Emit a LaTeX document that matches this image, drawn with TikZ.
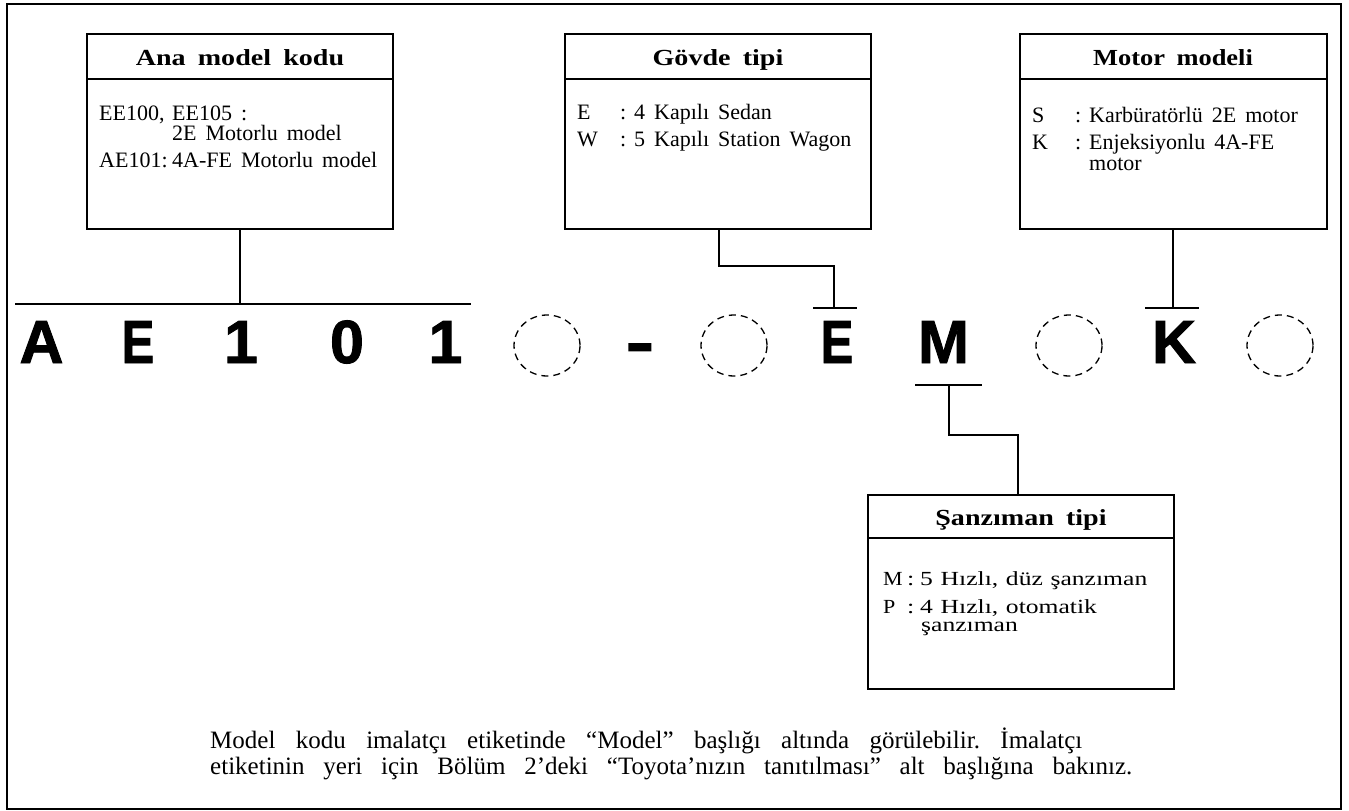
\documentclass[tikz,border=0pt]{standalone}
\usepackage{graphicx}
\usepackage{fontspec}
\setmainfont{Liberation Serif}
\newfontfamily\bigsans[BoldFeatures={FakeBold=1.5}]{Liberation Sans}
\usetikzlibrary{shapes.geometric}
\newcommand\wspA{\spaceskip 9pt\relax}
\newcommand\wspB{\spaceskip 6pt\relax}
\newcommand\wspC{\spaceskip 10pt\relax}
\tikzset{
  box/.style={draw, line width=1.4pt, rectangle, inner sep=0pt, minimum width=306pt},
  hdr/.style={anchor=base, inner sep=0pt, font=\fontsize{23}{27}\selectfont\bfseries\wspC},
  txt/.style={anchor=base west, inner sep=0pt, font=\fontsize{22}{26}\selectfont\wspA},
  txtb/.style={anchor=base west, inner sep=0pt, font=\fontsize{20}{24}\selectfont\wspB},
  conn/.style={line width=1.4pt},
  big/.style={anchor=base, inner sep=0pt, font=\bigsans\fontsize{61}{61}\selectfont\bfseries},
  slot/.style={draw, ellipse, dash pattern=on 7pt off 5pt, line width=1.3pt, minimum width=66pt, minimum height=61pt, inner sep=0pt},
  note/.style={anchor=base west, inner sep=0pt, font=\fontsize{25}{29}\selectfont\frenchspacing},
}
\begin{document}
\begin{tikzpicture}[x=1pt,y=-1pt]
\useasboundingbox (0,0) rectangle (1349,811);
\draw[line width=2pt] (7,4) rectangle (1341,809);

% boxes
\node[box, minimum height=195pt] (b1) at (240,131.5) {};
\node[box, minimum height=195pt] (b2) at (718,131.5) {};
\node[box, minimum width=307pt, minimum height=195pt] (b3) at (1173.5,131.5) {};
\node[box, minimum height=194pt] (b4) at (1021,592) {};
\draw[conn] (b1.west |- 0,79) -- (b1.east |- 0,79);
\draw[conn] (b2.west |- 0,79) -- (b2.east |- 0,79);
\draw[conn] (b3.west |- 0,79) -- (b3.east |- 0,79);
\draw[conn] (b4.west |- 0,538) -- (b4.east |- 0,538);

% headers
\node[hdr] (h1) at (240,65) {\scalebox{1.22}[1]{Ana model kodu}};
\node[hdr] (h2) at (718,65) {\scalebox{1.22}[1]{Gövde tipi}};
\node[hdr] (h3) at (1173,65) {\scalebox{1.15}[1]{Motor modeli}};
\node[hdr] (h4) at (1021,525) {\scalebox{1.22}[1]{Şanzıman tipi}};

% box 1 text
\node[txt] (t11) at (99,120) {EE100,};
\node[txt] (t12) at (172,120) {EE105 :};
\node[txt] (t13) at (172,140) {2E Motorlu model};
\node[txt] (t14) at (99,167) {AE101:};
\node[txt] (t15) at (172,167) {4A-FE Motorlu model};
% box 2 text
\node[txt] (t21) at (577,119) {E};
\node[txt] (t22) at (620,119) {:};
\node[txt] (t23) at (634,119) {4 Kapılı Sedan};
\node[txt] (t24) at (577,146) {W};
\node[txt] (t25) at (620,146) {:};
\node[txt] (t26) at (634,146) {5 Kapılı Station Wagon};
% box 3 text
\node[txt] (t31) at (1032,122) {S};
\node[txt] (t32) at (1075,122) {:};
\node[txt] (t33) at (1089,122) {Karbüratörlü 2E motor};
\node[txt] (t34) at (1032,149) {K};
\node[txt] (t35) at (1075,149) {:};
\node[txt] (t36) at (1089,149) {Enjeksiyonlu 4A-FE};
\node[txt] (t37) at (1089,170) {motor};
% box 4 text
\node[txtb] (t41) at (883,585) {\scalebox{1.1}[1]{M}};
\node[txtb] (t42) at (907,585) {\scalebox{1.3}[1]{:}};
\node[txtb] (t43) at (920,585) {\scalebox{1.28}[1]{5 Hızlı, düz şanzıman}};
\node[txtb] (t44) at (883,613) {\scalebox{1.1}[1]{P}};
\node[txtb] (t45) at (907,613) {\scalebox{1.3}[1]{:}};
\node[txtb] (t46) at (920,613) {\scalebox{1.28}[1]{4 Hızlı, otomatik}};
\node[txtb] (t47) at (921,631) {\scalebox{1.28}[1]{şanzıman}};

% code letters
\node[big] (c1) at (41.5,363) {A};
\node[big] (c2) at (138,363) {\scalebox{0.8}[1]{E}};
\node[big] (c3) at (241,363) {1};
\node[big] (c4) at (347,363) {0};
\node[big] (c5) at (445.5,363) {1};
\node[slot] (s1) at (547,345.5) {};
\node[big] (c6) at (640,363) {\scalebox{1.4}[1]{-}};
\node[slot] (s2) at (734,345.5) {};
\node[big] (c7) at (837,363) {\scalebox{0.8}[1]{E}};
\node[big] (c8) at (943.5,363) {M};
\node[slot] (s3) at (1069,345.5) {};
\node[big] (c9) at (1174,363) {K};
\node[slot] (s4) at (1280,345.5) {};

% connector coordinates
\coordinate (l1a) at (15,304);
\coordinate (l1b) at (471,304);
\coordinate (j1) at (240,304);
\coordinate (k2a) at (719,266);
\coordinate (k2b) at (834,266);
\coordinate (j2) at (834,308);
\coordinate (e2a) at (813,308);
\coordinate (e2b) at (857,308);
\coordinate (j3) at (1173,308);
\coordinate (e3a) at (1145,308);
\coordinate (e3b) at (1199,308);
\coordinate (m1) at (915,385);
\coordinate (m2) at (982,385);
\coordinate (j4) at (949,385);
\coordinate (k4a) at (949,435);
\coordinate (k4b) at (1018,435);

\draw[conn] (l1a) -- (l1b);
\draw[conn] (b1.south) -- (j1);
\draw[conn] (b2.south -| k2a) -- (k2a) -- (k2b) -- (j2);
\draw[conn] (e2a) -- (e2b);
\draw[conn] (b3.south -| j3) -- (j3);
\draw[conn] (e3a) -- (e3b);
\draw[conn] (m1) -- (m2);
\draw[conn] (j4) -- (k4a) -- (k4b) -- (b4.north -| k4b);

% note
\node[note] (n1) at (210,748) {\makebox[872pt][s]{Model kodu imalatçı etiketinde “Model” başlığı altında görülebilir. İmalatçı}};
\node[note] (n2) at (210,774) {\makebox[922pt][s]{etiketinin yeri için Bölüm 2’deki “Toyota’nızın tanıtılması” alt başlığına bakınız.}};
\end{tikzpicture}
\end{document}
